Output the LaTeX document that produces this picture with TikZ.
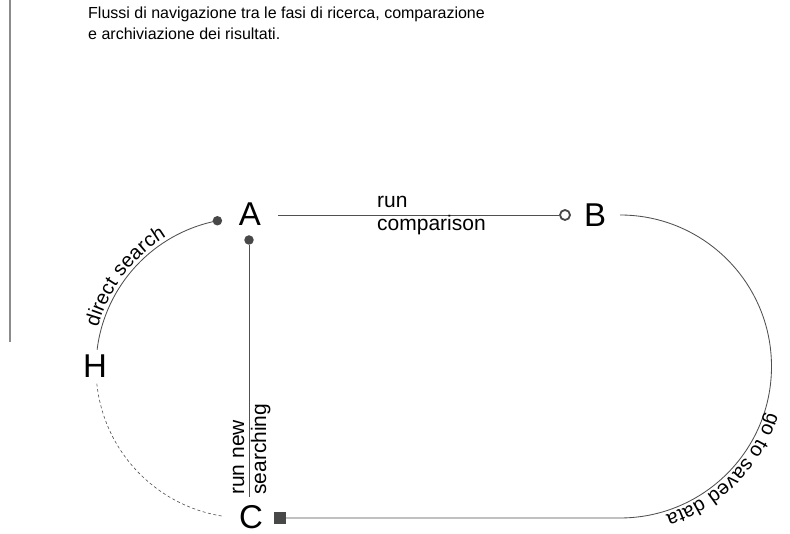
\documentclass[tikz,border=0pt]{standalone}
\usepackage{fontspec}
\setmainfont{Liberation Sans}
\usetikzlibrary{decorations.text,calc}
\definecolor{ln}{RGB}{80,80,80}
\definecolor{dotc}{RGB}{72,72,72}
\definecolor{barc}{RGB}{140,140,140}
\begin{document}
\begin{tikzpicture}[x=1pt,y=1pt,
  conn/.style={draw=ln, line width=0.85pt},
  dashconn/.style={draw=ln, line width=0.6pt, dash pattern=on 3pt off 2.5pt},
  lbl/.style={font=\fontsize{21}{25}\selectfont, inner sep=0pt},
  letter/.style={font=\fontsize{33}{38}\selectfont, inner sep=0pt},
  ttl/.style={font=\fontsize{16}{20}\selectfont, inner sep=0pt, anchor=base west},
  dotn/.style={circle, fill=dotc, minimum size=9.5pt, inner sep=0pt},
  opendot/.style={circle, draw=dotc, line width=1.8pt, fill=white, minimum size=10pt, inner sep=0pt},
  sqn/.style={rectangle, fill=dotc, minimum size=12pt, inner sep=0pt}]
\useasboundingbox (0,0) rectangle (790,534);
% left bar
\coordinate (bar1) at (10,534);
\coordinate (bar2) at (10,192);
\draw[draw=barc, line width=1.5pt] (bar1) -- (bar2);
% title
\node[ttl] (t1) at (88,515.7) {Flussi di navigazione tra le fasi di ricerca, comparazione};
\node[ttl] (t2) at (88,494) {e archiviazione dei risultati.};
% letters
\node[letter] (A) at (250,320) {A};
\node[letter] (B) at (595,319) {B};
\node[letter] (C) at (251,17) {C};
\node[letter] (H) at (95,168) {H};
% geometry helpers
\coordinate (cL) at (246,166);
\coordinate (cR) at (620,167.5);
\coordinate (d1p) at ($(cL)+(101:150)$);
\coordinate (hBot) at ($(cL)+(186:150)$);
\coordinate (hA) at (278,319);
\coordinate (vend) at (249,37);
\coordinate (r0) at (620,16);
% connectors
\draw[conn] (d1p) arc[start angle=101, end angle=173, radius=150];
\draw[dashconn] (hBot) arc[start angle=186, end angle=261, radius=150];
\node[opendot] (oc) at (565,319) {};
\node[dotn] (d1) at (d1p) {};
\node[dotn] (d2) at (249,294) {};
\node[sqn] (sq) at (280,16) {};
\draw[conn] (hA) -- (oc);
\draw[conn] (d2) -- (vend);
\draw[conn] (sq) -- (r0) arc[start angle=-90, end angle=90, radius=151.5];
% edge labels
\node[lbl, anchor=base west] (run1) at (377,326) {run};
\node[lbl, anchor=base west] (run2) at (377,303.5) {comparison};
\node[lbl, anchor=base west, rotate=90] (rn1) at (244,39) {run new};
\node[lbl, anchor=base west, rotate=90] (rn2) at (266,39) {searching};
% text along arcs
\coordinate (s1) at ($(cL)+(168:150)$);
\path[decorate, decoration={text along path, text={|\fontsize{20}{24}\selectfont|direct search}, text align=center, raise=3.5pt}] (s1) arc[start angle=168, end angle=118, radius=150];
\coordinate (s2) at ($(cR)+(-12:151.5)$);
\path[decorate, decoration={text along path, text={|\fontsize{20}{24}\selectfont|go to saved data}, text align=center, raise=3.5pt}] (s2) arc[start angle=-12, end angle=-78, radius=151.5];
\end{tikzpicture}
\end{document}
